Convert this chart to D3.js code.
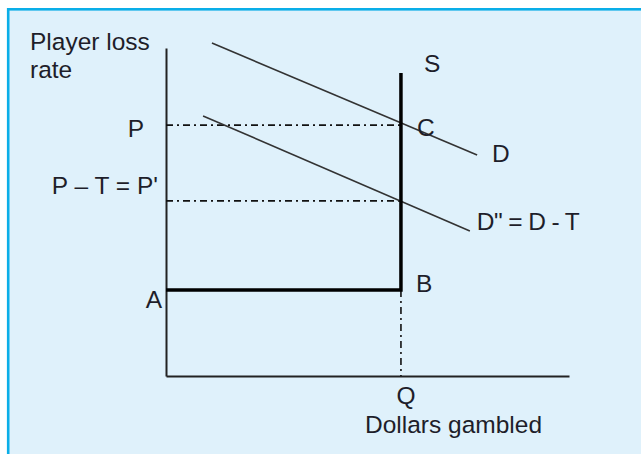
<!DOCTYPE html>
<meta charset="utf-8">
<style>
    body { margin: 0; background: #ffffff; }
    text { font-family: Arial, "Liberation Sans", sans-serif; font-size: 24.5px; fill: #1e1e2a; }
    .axis path { stroke: #222222; stroke-width: 2; }
    .curve { fill: none; stroke: #333333; stroke-width: 1.6; }
    .supply { fill: none; stroke: #000000; stroke-width: 3.5; }
    .guide { fill: none; stroke: #111111; stroke-width: 1.6; stroke-dasharray: 7,4,2,4; }
</style>
<body>
<script src="https://cdn.jsdelivr.net/npm/d3@7"></script>
<script>

    // quantity (dollars gambled) and loss rate, arbitrary units 0..10
    var Q = 5.83;
    var P = 7.65;
    var Pprime = 5.34;
    var A = 2.62;
    var S_top = 9.24;

    var demandD = [[1.14, 10.15], [7.72, 6.74]];
    var demandD2 = [[0.92, 7.93], [7.54, 4.42]];

    var yLabel = ["Player loss", "rate"];
    var xLabel = "Dollars gambled";

    var width = 641, height = 454;

    var x = d3.scaleLinear().domain([0, 10]).range([166, 569]);
    var y = d3.scaleLinear().domain([0, 10]).range([376, 48]);

    var svg = d3.select("body").append("svg")
            .attr("width", width)
            .attr("height", height);

    // panel
    svg.append("rect")
            .attr("x", 8.2).attr("y", 9.3)
            .attr("width", 700).attr("height", 500)
            .attr("fill", "#dff1fb")
            .attr("stroke", "#0aaee8")
            .attr("stroke-width", 2.6);

    svg.append("g").attr("class", "axis")
            .attr("transform", "translate(0," + y(0) + ")")
            .call(d3.axisBottom(x).ticks(0).tickSizeOuter(0));

    svg.append("g").attr("class", "axis")
            .attr("transform", "translate(" + x(0) + ",0)")
            .call(d3.axisLeft(y).ticks(0).tickSizeOuter(0));

    var line = d3.line().x(function(d) { return x(d[0]); }).y(function(d) { return y(d[1]); });

    // dash-dot guides
    svg.append("path").attr("class", "guide").attr("d", line([[0, P], [Q, P]]));
    svg.append("path").attr("class", "guide").attr("d", line([[0, Pprime], [Q, Pprime]]));
    svg.append("path").attr("class", "guide").attr("d", line([[Q, A], [Q, 0]]));

    // demand curves
    svg.append("path").attr("class", "curve").attr("d", line(demandD));
    svg.append("path").attr("class", "curve").attr("d", line(demandD2));

    // supply: vertical at Q, floor at A
    svg.append("path").attr("class", "supply")
            .attr("d", line([[0, A], [Q, A], [Q, S_top]]));

    // labels
    svg.append("text").attr("x", 30).attr("y", 50).text(yLabel[0]);
    svg.append("text").attr("x", 30).attr("y", 78).text(yLabel[1]);

    svg.append("text").attr("x", x(0) - 22).attr("y", y(P) + 12).attr("text-anchor", "end").text("P");
    svg.append("text").attr("x", x(0) - 8).attr("y", y(Pprime) - 7).attr("text-anchor", "end").text("P \u2013 T = P'");
    svg.append("text").attr("x", x(0) - 4).attr("y", y(A) + 18).attr("text-anchor", "end").text("A");

    svg.append("text").attr("x", x(Q) + 23).attr("y", y(S_top) - 1).text("S");
    svg.append("text").attr("x", x(Q) + 16).attr("y", y(P) + 11).text("C");
    svg.append("text").attr("x", x(Q) + 15).attr("y", y(A) + 2).text("B");
    svg.append("text").attr("x", x(demandD[1][0]) + 15).attr("y", y(demandD[1][1]) + 7).text("D");
    svg.append("text").attr("x", x(demandD2[1][0]) + 7).attr("y", y(demandD2[1][1]) - 1)
            .attr("letter-spacing", -0.6).text("D\" = D - T");

    svg.append("text").attr("x", x(Q) + 5).attr("y", y(0) + 28).attr("text-anchor", "middle").text("Q");
    svg.append("text").attr("x", 365).attr("y", 433).text(xLabel);

</script>
